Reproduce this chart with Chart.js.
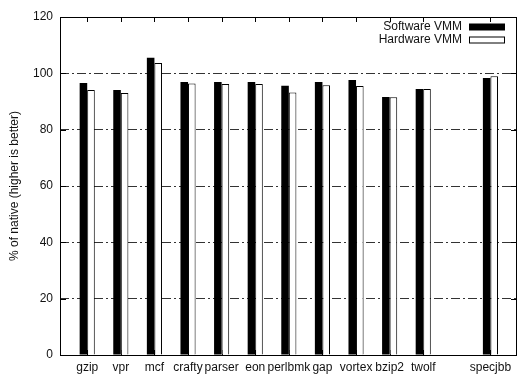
<!DOCTYPE html>
<html>
<head>
<meta charset="utf-8">
<script src="https://cdn.jsdelivr.net/npm/chart.js@4/dist/chart.umd.min.js"></script>
<style>
  html, body { margin: 0; padding: 0; background: #fff; }
</style>
</head>
<body>
<canvas id="myChart" width="529" height="384"></canvas>
<script>
// benchmark names (empty slot before specjbb)
var categories = ['gzip', 'vpr', 'mcf', 'crafty', 'parser', 'eon', 'perlbmk', 'gap', 'vortex', 'bzip2', 'twolf', '', 'specjbb'];
var softwareVMM = [96.6, 94.1, 105.5, 96.9, 96.9, 96.9, 95.6, 96.9, 97.6, 91.6, 94.4, null, 98.3];
var hardwareVMM = [94.1, 93.0, 103.7, 96.4, 96.2, 96.2, 93.2, 95.8, 95.5, 91.5, 94.4, null, 99.0];
var yTicks = [0, 20, 40, 60, 80, 100, 120];
var yTitle = '% of native (higher is better)';

function points(vals) {
  var out = [];
  for (var i = 0; i < vals.length; i++) {
    if (vals[i] !== null) out.push({x: i, y: vals[i]});
  }
  return out;
}

Chart.defaults.font.family = "'Liberation Sans', Arial, sans-serif";
Chart.defaults.font.size = 12;
Chart.defaults.color = '#111';

// gnuplot-ish frame, inward ticks and key
var framePlugin = {
  id: 'frame',
  beforeDatasetsDraw: function(chart) {
    var c = chart.ctx, a = chart.chartArea;
    var xs = chart.scales.x, ys = chart.scales.y;
    c.save();
    c.strokeStyle = '#000';
    c.lineWidth = 1;
    c.beginPath();
    for (var i = 0; i < categories.length; i++) {
      if (!categories[i]) continue;
      var px = Math.round(xs.getPixelForValue(i)) + 0.5;
      c.moveTo(px, a.top); c.lineTo(px, a.top + 5);
      c.moveTo(px, a.bottom); c.lineTo(px, a.bottom - 5);
    }
    for (var j = 0; j < yTicks.length; j++) {
      var py = Math.round(ys.getPixelForValue(yTicks[j])) + 0.5;
      c.moveTo(a.left, py); c.lineTo(a.left + 6, py);
      c.moveTo(a.right, py); c.lineTo(a.right - 6, py);
    }
    c.stroke();
    c.restore();
  },
  afterDatasetsDraw: function(chart) {
    var c = chart.ctx, a = chart.chartArea;
    c.save();
    c.strokeStyle = '#000';
    c.lineWidth = 1;
    c.strokeRect(Math.round(a.left) + 0.5, Math.round(a.top) + 0.5,
                 Math.round(a.right - a.left) - 1, Math.round(a.bottom - a.top));
    // key
    c.font = "12px 'Liberation Sans', Arial, sans-serif";
    c.textAlign = 'right';
    c.textBaseline = 'middle';
    chart.data.datasets.forEach(function(ds, k) {
      var y = 27 + k * 13;
      c.fillStyle = '#111';
      c.fillText(ds.label, 462, y);
      c.fillStyle = ds.backgroundColor;
      c.fillRect(469.5, y - 3, 35, 6);
      c.strokeRect(469.5, y - 3, 35, 6);
    });
    c.restore();
  }
};

var ctx = document.getElementById('myChart').getContext('2d');
var chart = new Chart(ctx, {
  type: 'bar',
  data: {
    datasets: [{
      label: 'Software VMM',
      data: points(softwareVMM),
      backgroundColor: '#000',
      borderColor: '#000',
      borderWidth: 0
    }, {
      label: 'Hardware VMM',
      data: points(hardwareVMM),
      backgroundColor: '#fff',
      borderColor: '#000',
      borderWidth: 1
    }]
  },
  options: {
    responsive: false,
    animation: false,
    devicePixelRatio: 1,
    layout: { padding: { left: 0, right: 12, top: 17, bottom: 0 } },
    datasets: { bar: { categoryPercentage: 0.45, barPercentage: 1.0 } },
    plugins: { legend: { display: false }, tooltip: { enabled: false } },
    scales: {
      x: {
        type: 'linear',
        min: -0.81,
        max: 12.79,
        offset: false,
        grid: { display: false, drawTicks: false },
        border: { display: false },
        afterBuildTicks: function(scale) {
          var t = [];
          for (var i = 0; i < categories.length; i++) {
            if (categories[i]) t.push({value: i});
          }
          scale.ticks = t;
        },
        ticks: {
          autoSkip: false,
          maxRotation: 0,
          padding: 5,
          callback: function(v) { return categories[v]; }
        },
        afterFit: function(scale) { scale.height = 29; }
      },
      y: {
        min: 0,
        max: 120,
        afterBuildTicks: function(scale) {
          scale.ticks = yTicks.map(function(v) { return {value: v}; });
        },
        ticks: { padding: 7 },
        grid: {
          drawTicks: false,
          color: function(c) {
            var v = c.tick ? c.tick.value : 0;
            return (v > 0 && v < 120) ? '#333' : 'rgba(0,0,0,0)';
          }
        },
        border: { display: false, dash: [9, 3, 2, 3] },
        title: {
          display: true,
          text: yTitle,
          padding: { top: 7, bottom: 0 }
        },
        afterFit: function(scale) { scale.width = 60; }
      }
    }
  },
  plugins: [framePlugin]
});
</script>
</body>
</html>
